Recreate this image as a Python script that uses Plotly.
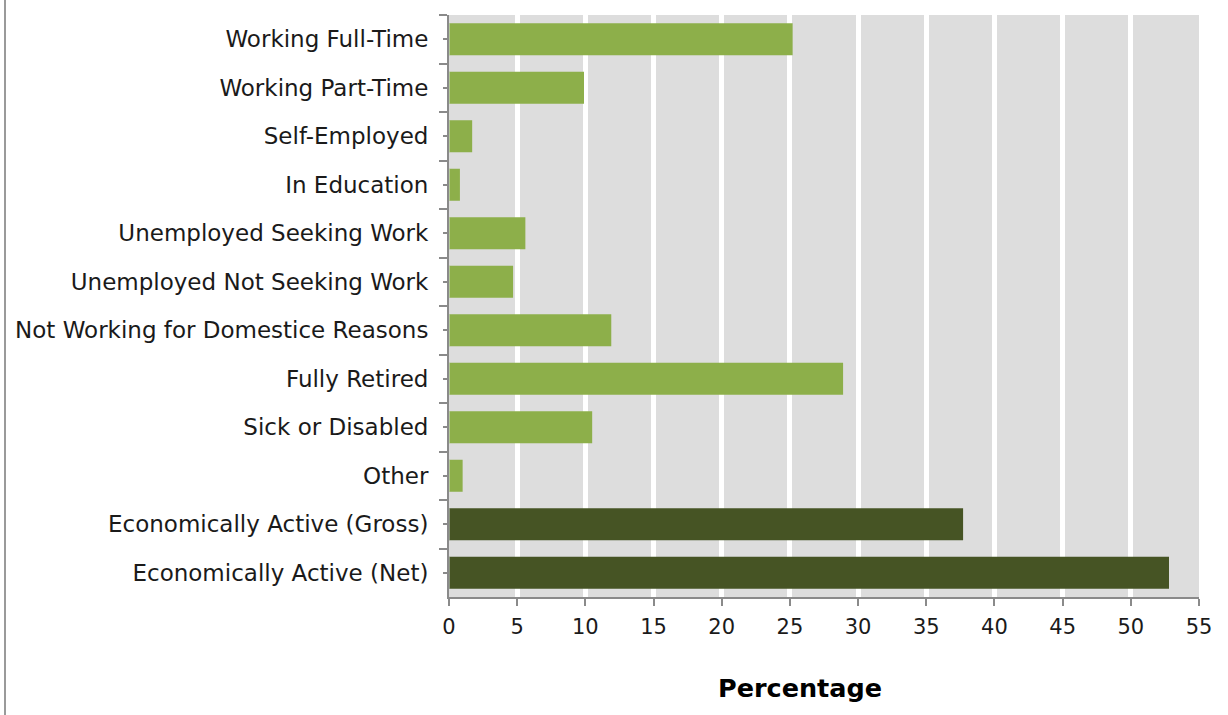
import plotly.graph_objects as go

# Economic activity breakdown (percent of respondents)
categories = [
    "Working Full-Time",
    "Working Part-Time",
    "Self-Employed",
    "In Education",
    "Unemployed Seeking Work",
    "Unemployed Not Seeking Work",
    "Not Working for Domestice Reasons",
    "Fully Retired",
    "Sick or Disabled",
    "Other",
    "Economically Active (Gross)",
    "Economically Active (Net)",
]
values = [25.2, 9.9, 1.7, 0.8, 5.6, 4.7, 11.9, 28.9, 10.5, 1.0, 37.7, 52.8]
summary_rows = ["Economically Active (Gross)", "Economically Active (Net)"]

x_ticks = list(range(0, 56, 5))

LIGHT = "#8DAF4A"
DARK = "#465424"
AXIS = "#8A8A8A"
FONT = "DejaVu Sans"

bar_colors = [DARK if c in summary_rows else LIGHT for c in categories]

fig = go.Figure()
fig.add_trace(go.Bar(
    y=categories,
    x=values,
    orientation="h",
    marker=dict(color=bar_colors, line=dict(width=0)),
    showlegend=False,
    hoverinfo="x+y",
))

# invisible companion trace so the second (overlay) axis draws centre ticks
fig.add_trace(go.Bar(
    y=categories, x=[0] * len(categories), orientation="h",
    yaxis="y2", showlegend=False, hoverinfo="skip",
    marker=dict(color="rgba(0,0,0,0)"),
))

fig.update_layout(
    width=1228, height=715,
    margin=dict(l=449, r=29, t=15, b=118),
    paper_bgcolor="white",
    plot_bgcolor="#DDDDDD",
    bargap=0.34,
    font=dict(family=FONT, size=20, color="#1a1a1a"),
    xaxis=dict(
        range=[0, 55],
        tickvals=x_ticks,
        ticktext=[str(v) for v in x_ticks],
        showgrid=True, gridcolor="white", gridwidth=5,
        zeroline=False,
        showline=True, linecolor=AXIS, linewidth=2,
        ticks="outside", ticklen=7, tickwidth=2, tickcolor=AXIS,
        ticklabelstandoff=3,
        tickfont=dict(family=FONT, size=21, color="#1a1a1a"),
    ),
    yaxis=dict(
        type="category",
        categoryorder="array", categoryarray=categories,
        autorange="reversed",
        showgrid=False, zeroline=False,
        showline=True, linecolor=AXIS, linewidth=2,
        ticks="outside", tickson="boundaries", ticklen=8, tickwidth=2,
        tickcolor=AXIS,
        ticklabelstandoff=14,
        tickfont=dict(family=FONT, size=23, color="#1a1a1a"),
    ),
    yaxis2=dict(
        type="category",
        categoryorder="array", categoryarray=categories,
        autorange="reversed",
        overlaying="y", side="left", matches="y",
        showgrid=False, zeroline=False, showline=False,
        showticklabels=False,
        ticks="outside", ticklen=5, tickwidth=2, tickcolor=AXIS,
    ),
    annotations=[
        dict(text="<b>Percentage</b>", xref="paper", yref="paper",
             x=(800 - 449) / 750, y=-(688 - 597) / 582,
             xanchor="center", yanchor="middle", showarrow=False,
             font=dict(family=FONT, size=25.5, color="black")),
    ],
    shapes=[
        # thin frame line on the left edge of the chart area
        dict(type="line", xref="paper", yref="paper",
             x0=-(449 - 5) / 750, x1=-(449 - 5) / 750,
             y0=-118 / 582, y1=(715 - 118) / 582,
             line=dict(color="#9A9A9A", width=2)),
    ],
)

fig.write_html("out.html")
